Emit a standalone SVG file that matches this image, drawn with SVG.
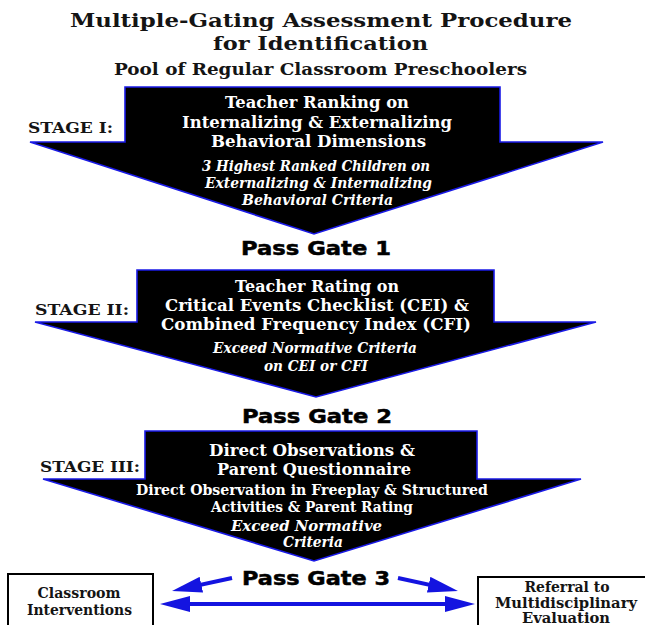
<svg xmlns="http://www.w3.org/2000/svg" width="645" height="625" viewBox="0 0 645 625">
<style>
text{font-family:"DejaVu Serif","Liberation Serif",serif;font-weight:bold;text-anchor:middle;fill:#141414}
.t{font-size:19px}
.sub{font-size:16.5px}
.w{fill:#fff;font-size:17px}
.wi{fill:#fff;font-size:14.5px;font-style:italic}
.ws{fill:#fff;font-size:15px}
.stg{font-size:15.5px;text-anchor:start}
.gate{font-family:"DejaVu Sans","Liberation Sans",sans-serif;font-size:19px;fill:#000;stroke:#000;stroke-width:0.5}
.bx{font-size:14px}
.arrow{fill:#000;stroke:#1a1ae6;stroke-width:1.6;stroke-linejoin:miter}
.box{fill:#fff;stroke:#000;stroke-width:2}
.con{stroke:#1414e0;stroke-width:4;fill:none}
</style>
<defs>
<marker id="head" viewBox="0 0 30 16" refX="20" refY="8" markerWidth="30" markerHeight="16" markerUnits="userSpaceOnUse" orient="auto-start-reverse">
<path d="M0,0 L30,8 L0,16 Z" fill="#1414e0"/>
</marker>
</defs>
<rect width="645" height="625" fill="#fff"/>
<g id="title">
<text class="t" x="321" y="27" textLength="502" lengthAdjust="spacingAndGlyphs">Multiple-Gating Assessment Procedure</text>
<text class="t" x="320.5" y="50" textLength="215" lengthAdjust="spacingAndGlyphs">for Identification</text>
<text class="sub" x="320.5" y="75" textLength="413" lengthAdjust="spacingAndGlyphs">Pool of Regular Classroom Preschoolers</text>
</g>
<g id="stage1">
<path class="arrow" d="M125,87 L500,87 L500,142 L603,142 L314,234 L30,142 L125,142 Z"/>
<text class="stg" x="28" y="133" textLength="85" lengthAdjust="spacingAndGlyphs">STAGE I:</text>
<text class="w" x="317" y="108" textLength="184" lengthAdjust="spacingAndGlyphs">Teacher Ranking on</text>
<text class="w" x="317" y="127.5" textLength="270" lengthAdjust="spacingAndGlyphs">Internalizing &amp; Externalizing</text>
<text class="w" x="318.5" y="147" textLength="215" lengthAdjust="spacingAndGlyphs">Behavioral Dimensions</text>
<text class="wi" x="316" y="171" textLength="228" lengthAdjust="spacingAndGlyphs">3 Highest Ranked Children on</text>
<text class="wi" x="318.5" y="188" textLength="227" lengthAdjust="spacingAndGlyphs">Externalizing &amp; Internalizing</text>
<text class="wi" x="317.5" y="205" textLength="151" lengthAdjust="spacingAndGlyphs">Behavioral Criteria</text>
</g>
<g id="gate1">
<text class="gate" x="316" y="255" textLength="150" lengthAdjust="spacingAndGlyphs">Pass Gate 1</text>
</g>
<g id="stage2">
<path class="arrow" d="M137,270 L494,270 L494,322 L596,322 L316,397 L35,322 L137,322 Z"/>
<text class="stg" x="35" y="315" textLength="94" lengthAdjust="spacingAndGlyphs">STAGE II:</text>
<text class="w" x="317" y="292" textLength="164" lengthAdjust="spacingAndGlyphs">Teacher Rating on</text>
<text class="w" x="317" y="311" textLength="304" lengthAdjust="spacingAndGlyphs">Critical Events Checklist (CEI) &amp;</text>
<text class="w" x="316" y="330" textLength="310" lengthAdjust="spacingAndGlyphs">Combined Frequency Index (CFI)</text>
<text class="wi" x="315" y="353" textLength="204" lengthAdjust="spacingAndGlyphs">Exceed Normative Criteria</text>
<text class="wi" x="316" y="371" textLength="104" lengthAdjust="spacingAndGlyphs">on CEI or CFI</text>
</g>
<g id="gate2">
<text class="gate" x="317" y="423" textLength="150" lengthAdjust="spacingAndGlyphs">Pass Gate 2</text>
</g>
<g id="stage3">
<path class="arrow" d="M145,431 L477,431 L477,479 L581,479 L314,561 L43,479 L145,479 Z"/>
<text class="stg" x="40" y="472" textLength="100" lengthAdjust="spacingAndGlyphs">STAGE III:</text>
<text class="w" x="312" y="456" textLength="206" lengthAdjust="spacingAndGlyphs">Direct Observations &amp;</text>
<text class="w" x="314" y="475" textLength="194" lengthAdjust="spacingAndGlyphs">Parent Questionnaire</text>
<text class="ws" x="312" y="495" textLength="352" lengthAdjust="spacingAndGlyphs">Direct Observation in Freeplay &amp; Structured</text>
<text class="ws" x="312" y="512" textLength="202" lengthAdjust="spacingAndGlyphs">Activities &amp; Parent Rating</text>
<text class="wi" x="306.5" y="531" textLength="151" lengthAdjust="spacingAndGlyphs">Exceed Normative</text>
<text class="wi" x="313" y="547" textLength="60" lengthAdjust="spacingAndGlyphs">Criteria</text>
</g>
<g id="gate3">
<text class="gate" x="316" y="585" textLength="148" lengthAdjust="spacingAndGlyphs">Pass Gate 3</text>
</g>
<g id="classroom-interventions">
<rect class="box" x="8" y="574" width="145" height="60"/>
<text class="bx" x="79" y="598" textLength="83" lengthAdjust="spacingAndGlyphs">Classroom</text>
<text class="bx" x="79.5" y="615" textLength="105" lengthAdjust="spacingAndGlyphs">Interventions</text>
</g>
<g id="referral">
<rect class="box" x="478" y="577" width="180" height="60"/>
<text class="bx" x="567" y="592" textLength="85" lengthAdjust="spacingAndGlyphs">Referral to</text>
<text class="bx" x="566" y="608" textLength="142" lengthAdjust="spacingAndGlyphs">Multidisciplinary</text>
<text class="bx" x="566" y="623" textLength="88" lengthAdjust="spacingAndGlyphs">Evaluation</text>
</g>
<g id="connectors">
<line class="con" x1="232" y1="578" x2="181.8" y2="588.9" marker-end="url(#head)"/>
<line class="con" x1="398" y1="578" x2="448.2" y2="588.9" marker-end="url(#head)"/>
<line class="con" x1="170" y1="604" x2="465" y2="604" marker-start="url(#head)" marker-end="url(#head)"/>
</g>
</svg>
